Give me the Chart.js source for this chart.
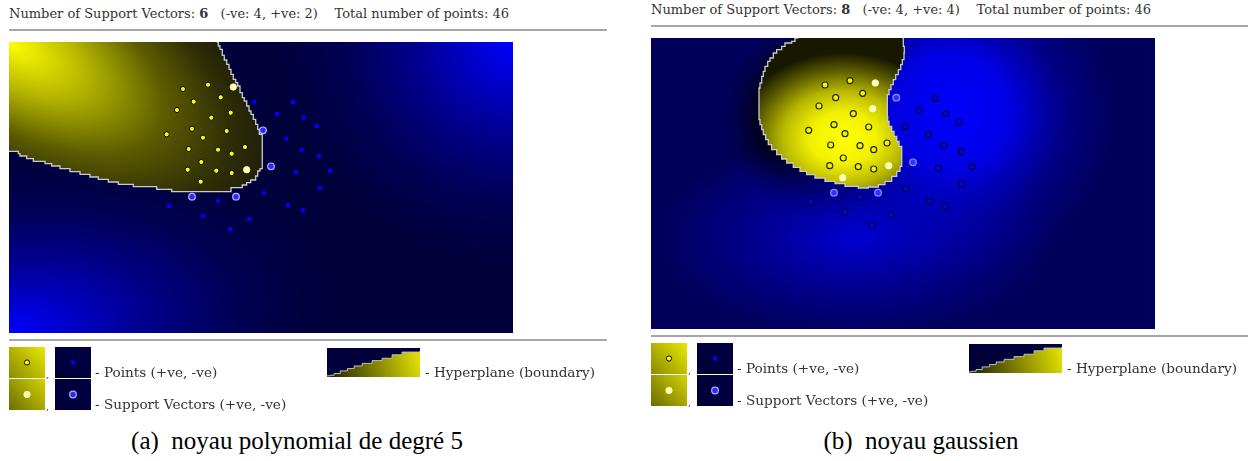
<!DOCTYPE html>
<html>
<head>
<meta charset="utf-8">
<title>SVM noyaux</title>
<script src="https://cdn.jsdelivr.net/npm/chart.js@4.4.1/dist/chart.umd.min.js"></script>
<style>
  body { margin: 0; background: #fff; }
  #page { position: relative; width: 1248px; height: 461px; overflow: hidden; font-family: "DejaVu Serif", serif; color: #333; }
  #page div, #page canvas { position: absolute; }
  .txt { font-size: 13px; white-space: pre; line-height: 16px; }
  .leg { font-size: 13.6px; }
  .rule { height: 2px; background: #a6a6a6; }
  .comma { font-size: 10px; line-height: 10px; }
  #page .cap { font-family: "Liberation Serif", "Times New Roman", Times, serif; font-size: 25px; color: #000; white-space: pre; line-height: 28px; text-align: center; width: 600px; }
</style>
</head>
<body>
<div id="page"></div>
<script>
// points, in pixels from the top-left corner of the plot
const posX = [174, 199, 224.3, 184.7, 211.7, 168, 221.7, 202.3, 183, 157.7, 217.7, 194, 179.7, 209, 236, 222.7, 192.3, 178.7, 207.3, 237.7, 222.7, 191.7];
const posY = [47, 42.7, 45, 59.7, 55.3, 68, 70.7, 75.7, 86.7, 92.3, 89, 95.7, 107, 107.7, 105, 111.7, 120, 127.7, 128.7, 127.7, 131, 139.7];
const negX = [245.3, 284, 268, 294.7, 254, 307.7, 277.3, 292.7, 310, 262, 287.3, 321, 310.7, 183, 227, 254.7, 209.3, 160, 279, 294, 194, 240.3, 221];
const negY = [59.7, 60.3, 72, 75.7, 88.3, 84, 96.7, 107.7, 113.7, 124.3, 130.3, 128.7, 145.7, 154.7, 154.7, 150.7, 159, 164, 163.3, 168.3, 174, 177, 187];

// support vectors (indexes into the arrays above)
const svPosA = [2, 19];
const svNegA = [4, 9, 13, 14];
const svPosB = [2, 6, 19, 21];
const svNegB = [0, 9, 13, 14];

// decision boundary, polynomial kernel
const boundAX = [207.7, 209.3, 211, 213.3, 215.3, 217.7, 220, 222, 224.3, 226.7, 228.7, 231, 233.3, 235.3, 237.7, 240, 242, 244.3, 246.7, 248.7, 250.3, 253.3, 253.3, 251, 248.7, 246.7, 241.7, 237.7, 233.3, 222, 222, 162.7, 162.7, 147.7, 147.7, 137.7, 124.3, 109.3, 99.3, 89.3, 81, 71, 61, 51, 42.7, 36, 24.3, 17.7, 11, 9.3, 0];
const boundAY = [0, 4, 7.3, 13.3, 18, 22.3, 27.3, 32.3, 37.3, 40.7, 44, 50.7, 55.7, 59, 64, 69, 72.3, 77.3, 82.3, 87.3, 92.3, 100.7, 126.7, 129, 134, 138, 140.7, 143, 145.7, 148, 149.7, 149.7, 147.3, 147.3, 144.7, 144.7, 142.3, 140, 137.3, 135, 132.3, 129.7, 126.7, 124, 121.7, 119.3, 116.7, 114, 111.7, 109.3, 109.3];

// decision boundary, gaussian kernel
const boundBX = [147.3, 144, 140.7, 134, 130.7, 125.7, 122.3, 119, 116.7, 114, 112.3, 110.7, 109, 108, 108, 109, 110.7, 112.3, 114.7, 117.3, 120.7, 125.7, 130.7, 135.7, 142.3, 149, 155.7, 164, 174, 184, 194, 207.3, 217.3, 227.3, 234, 240.7, 245.7, 249, 250.7, 250.7, 248, 245.7, 243, 240.7, 238, 236.7, 236.3, 236.3, 238, 240, 242.3, 244.7, 247.3, 249.7, 251.3, 253, 253.3, 252.3];
const boundBY = [0, 3.3, 5, 8.3, 11.7, 15, 20, 23.3, 28.3, 33.3, 38.3, 45, 50, 55, 81.7, 86.7, 91.7, 96.7, 101.7, 106.7, 111.7, 116.7, 121, 125, 129.3, 133.3, 136.7, 140, 143.3, 145.7, 148.3, 150, 149, 146.7, 143.3, 138.3, 133.3, 128.3, 123.3, 108.3, 103.3, 98.3, 93.3, 88.3, 83.3, 78.3, 61.7, 56.7, 51.7, 46.7, 41.7, 36.7, 31.7, 26.7, 21.7, 15, 8.3, 0];

// legend hyperplane sample
const hyperX = [0, 0.034, 0.077, 0.142, 0.219, 0.292, 0.378, 0.485, 0.592, 0.7, 0.807, 1.0];
const hyperY = [0.96, 0.94, 0.88, 0.79, 0.71, 0.62, 0.53, 0.435, 0.353, 0.235, 0.141, 0.094];

const page = document.getElementById('page');

function addDiv(cls, left, top, html, extra) {
  const d = document.createElement('div');
  d.className = cls;
  d.style.left = left + 'px';
  d.style.top = top + 'px';
  if (extra) Object.assign(d.style, extra);
  d.innerHTML = html;
  page.appendChild(d);
  return d;
}

function addCanvas(left, top, w, h) {
  const c = document.createElement('canvas');
  c.width = w; c.height = h;
  c.style.left = left + 'px';
  c.style.top = top + 'px';
  c.style.width = w + 'px';
  c.style.height = h + 'px';
  page.appendChild(c);
  return c;
}

function glow(ctx, cx, cy, rx, ry, angle, stops) {
  ctx.save();
  ctx.translate(cx, cy);
  ctx.rotate(angle * Math.PI / 180);
  ctx.scale(1, ry / rx);
  const g = ctx.createRadialGradient(0, 0, 0, 0, 0, rx);
  stops.forEach(s => g.addColorStop(s[0], s[1]));
  ctx.fillStyle = g;
  ctx.fillRect(-4000, -4000, 8000, 8000);
  ctx.restore();
}

function makeBackdrop(bg) {
  return {
    id: 'backdrop',
    beforeDatasetsDraw(chart) {
      const {ctx, chartArea: a, scales: {x, y}} = chart;
      ctx.save();
      ctx.beginPath();
      ctx.rect(a.left, a.top, a.width, a.height);
      ctx.clip();
      ctx.fillStyle = bg.base;
      ctx.fillRect(a.left, a.top, a.width, a.height);
      bg.glows.forEach(g => glow(ctx, x.getPixelForValue(g.x), y.getPixelForValue(g.y), g.rx, g.ry, g.angle || 0, g.stops));
      // positive side of the boundary
      const line = chart.getDatasetMeta(0).dataset;
      ctx.beginPath();
      line.path(ctx);
      bg.corners.forEach(c => ctx.lineTo(x.getPixelForValue(c[0]), y.getPixelForValue(c[1])));
      ctx.closePath();
      ctx.clip();
      const p = bg.pos;
      glow(ctx, x.getPixelForValue(p.x), y.getPixelForValue(p.y), p.rx, p.ry, p.angle || 0, p.stops);
      ctx.restore();
    }
  };
}

const baseOpts = (xmax, ymax) => ({
  responsive: false,
  animation: false,
  events: [],
  layout: { padding: 0, autoPadding: false },
  scales: {
    x: { type: 'linear', min: 0, max: xmax, display: false },
    y: { type: 'linear', min: 0, max: ymax, reverse: true, display: false }
  },
  plugins: { legend: { display: false }, tooltip: { enabled: false } }
});

function pts(xs, ys, keep) {
  return xs.map((v, i) => ({ x: v, y: ys[i], i })).filter(p => keep(p.i)).map(p => ({ x: p.x, y: p.y }));
}

function plotChart(canvas, cfg) {
  const s = cfg.style;
  new Chart(canvas, {
    type: 'line',
    data: {
      datasets: [
        { label: 'boundary', data: cfg.bx.map((v, i) => ({ x: v, y: cfg.by[i] })), stepped: true,
          borderColor: '#cccccc', borderWidth: 1.3, pointRadius: 0, fill: false, order: 10 },
        { label: '+ve', data: pts(posX, posY, i => !cfg.svPos.includes(i)), showLine: false, order: 2, ...s.pos },
        { label: '-ve', data: pts(negX, negY, i => !cfg.svNeg.includes(i)), showLine: false, order: 2, ...s.neg },
        { label: 'SV +ve', data: pts(posX, posY, i => cfg.svPos.includes(i)), showLine: false, order: 1, ...s.svPos },
        { label: 'SV -ve', data: pts(negX, negY, i => cfg.svNeg.includes(i)), showLine: false, order: 1, ...s.svNeg }
      ]
    },
    options: baseOpts(504, 291),
    plugins: [makeBackdrop(cfg.bg)]
  });
}

const styleA = {
  pos: { pointRadius: 2.6, pointBackgroundColor: '#ffff00', pointBorderColor: '#000000', pointBorderWidth: 1 },
  neg: { pointRadius: 2.3, pointBackgroundColor: '#0000ff', pointBorderWidth: 0 },
  svPos: { pointRadius: 3.2, pointBackgroundColor: '#ffffa8', pointBorderColor: 'rgba(255,255,210,0.8)', pointBorderWidth: 1 },
  svNeg: { pointRadius: 3.3, pointBackgroundColor: '#2a2aff', pointBorderColor: '#b4b4ff', pointBorderWidth: 1.2 }
};
const styleB = {
  pos: { pointRadius: 3, pointBackgroundColor: '#f4f400', pointBorderColor: '#262600', pointBorderWidth: 1.2 },
  neg: { pointRadius: 3, pointBackgroundColor: '#0000f0', pointBorderColor: '#000030', pointBorderWidth: 1.2 },
  svPos: { pointRadius: 3.2, pointBackgroundColor: '#ffffb0', pointBorderColor: '#ffffe0', pointBorderWidth: 1 },
  svNeg: { pointRadius: 3.3, pointBackgroundColor: '#3030ff', pointBorderColor: '#9090ff', pointBorderWidth: 1.2 }
};

const bgA = {
  base: '#00003a',
  glows: [
    { x: 504, y: 0, rx: 240, ry: 230, stops: [[0, 'rgba(0,0,255,1)'], [0.35, 'rgba(0,0,240,0.55)'], [0.7, 'rgba(0,0,200,0.18)'], [1, 'rgba(0,0,160,0)']] },
    { x: 0, y: 291, rx: 330, ry: 175, angle: -8, stops: [[0, 'rgba(0,0,255,1)'], [0.35, 'rgba(0,0,240,0.55)'], [0.7, 'rgba(0,0,200,0.18)'], [1, 'rgba(0,0,160,0)']] }
  ],
  corners: [[0, 0]],
  pos: { x: 0, y: 0, rx: 290, ry: 135, angle: 30, stops: [[0, '#ffff00'], [0.3, '#b4b400'], [0.6, '#5c5c00'], [0.85, '#2e2e06'], [1, '#1e1e0a']] }
};
const bgB = {
  base: '#00005a',
  glows: [
    { x: 185, y: 80, rx: 112, ry: 104, stops: [[0, 'rgba(0,0,0,0.9)'], [0.72, 'rgba(0,0,10,0.7)'], [1, 'rgba(0,0,40,0)']] },
    { x: 300, y: 75, rx: 165, ry: 165, stops: [[0, 'rgba(0,0,255,1)'], [0.35, 'rgba(0,0,255,0.85)'], [0.7, 'rgba(0,0,220,0.3)'], [1, 'rgba(0,0,200,0)']] },
    { x: 205, y: 200, rx: 200, ry: 100, stops: [[0, 'rgba(0,0,230,0.85)'], [0.5, 'rgba(0,0,210,0.45)'], [1, 'rgba(0,0,200,0)']] }
  ],
  corners: [],
  pos: { x: 192, y: 100, rx: 110, ry: 85, stops: [[0, '#ffff00'], [0.3, '#f2f200'], [0.55, '#b8b800'], [0.8, '#5a5a00'], [1, '#181800']] }
};

function swatch(left, top, w, h, paint, dataset) {
  const c = addCanvas(left, top, w, h);
  new Chart(c, {
    type: 'line',
    data: { datasets: [dataset] },
    options: baseOpts(1, 1),
    plugins: [{
      id: 'swatchBg',
      beforeDatasetsDraw(chart) {
        const {ctx, chartArea: a} = chart;
        const g = ctx.createLinearGradient(a.right, a.top, a.left, a.bottom);
        g.addColorStop(0, paint[0]);
        g.addColorStop(1, paint[1]);
        ctx.save();
        ctx.fillStyle = g;
        ctx.fillRect(a.left, a.top, a.width, a.height);
        ctx.restore();
      }
    }]
  });
}

function one(style) {
  return { data: [{ x: 0.5, y: 0.5 }], showLine: false, ...style };
}

function panel(ox, oy, header, cfg) {
  addDiv('txt', 9 + ox, 6 + oy, header);
  addDiv('rule', 9 + ox, 29 + oy, '', { width: '598px' });
  plotChart(addCanvas(9 + ox, 42 + oy, 504, 291), cfg);
  addDiv('rule', 9 + ox, 339 + oy, '', { width: '598px' });

  swatch(9 + ox, 347 + oy, 36, 31, ['#e8e800', '#8a8a00'], one(styleA.pos));
  swatch(55 + ox, 347 + oy, 36, 31, ['#000046', '#000036'], one(styleA.neg));
  swatch(9 + ox, 379 + oy, 36, 31, ['#d4d400', '#6c6c00'], one(styleA.svPos));
  swatch(55 + ox, 379 + oy, 36, 31, ['#000046', '#000036'], one(styleA.svNeg));
  addDiv('txt comma', 46 + ox, 370 + oy, ',');
  addDiv('txt comma', 46 + ox, 402 + oy, ',');
  addDiv('txt leg', 95 + ox, 364 + oy, '- Points (+ve, -ve)');
  addDiv('txt leg', 95 + ox, 396 + oy, '- Support Vectors (+ve, -ve)');

  swatch(327 + ox, 348 + oy, 93, 29, ['#00003c', '#00003a'], {
    data: hyperX.map((v, i) => ({ x: v, y: hyperY[i] })),
    stepped: true, borderColor: '#c0c0c0', borderWidth: 1, pointRadius: 0,
    fill: { value: 1 },
    backgroundColor: (c) => {
      const a = c.chart.chartArea;
      if (!a) return '#808000';
      const g = c.chart.ctx.createLinearGradient(a.left, a.bottom, a.right, a.top);
      g.addColorStop(0, '#1c1c00');
      g.addColorStop(1, '#e8e800');
      return g;
    }
  });
  addDiv('txt leg', 425 + ox, 364 + oy, '- Hyperplane (boundary)');
}

panel(0, 0, 'Number of Support Vectors: <b>6</b>   (-ve: 4, +ve: 2)    Total number of points: 46',
  { bx: boundAX, by: boundAY, svPos: svPosA, svNeg: svNegA, style: styleA, bg: bgA });
panel(642, -4, 'Number of Support Vectors: <b>8</b>   (-ve: 4, +ve: 4)    Total number of points: 46',
  { bx: boundBX, by: boundBY, svPos: svPosB, svNeg: svNegB, style: styleB, bg: bgB });

addDiv('cap', 297 - 300, 427, '(a)  noyau polynomial de degré 5');
addDiv('cap', 921 - 300, 427, '(b)  noyau gaussien');
</script>
</body>
</html>
